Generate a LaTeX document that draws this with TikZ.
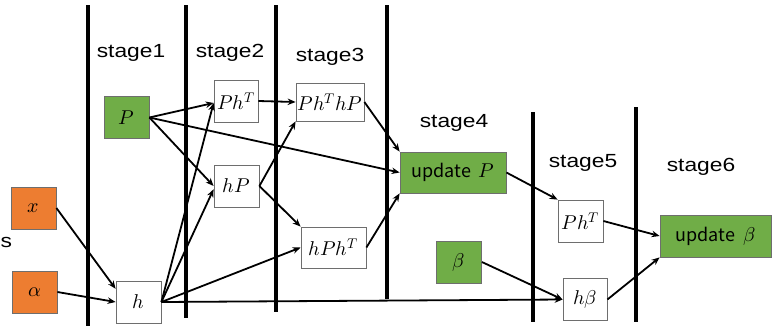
\documentclass[tikz,border=0pt]{standalone}
\usepackage{fontspec}
\usepackage{unicode-math}
\setmathfont{Latin Modern Math}
\usetikzlibrary{arrows.meta}
\newfontfamily\stagefont{Liberation Sans}
\newfontfamily\jpfont{Noto Sans CJK JP}
\definecolor{myorange}{HTML}{ED7D31}
\definecolor{mygreen}{HTML}{70AD47}
\definecolor{myborder}{HTML}{6E6E6E}
\newcommand{\stg}[1]{\scalebox{1.2}[1]{\stagefont\fontsize{19}{22}\selectfont #1}}
\newcommand{\mth}[1]{{\fontsize{20}{22}\selectfont$#1$}}
\begin{document}
\begin{tikzpicture}[x=1pt,y=-1pt,
  box/.style={draw=myborder,line width=0.8pt,minimum width=45pt,minimum height=42pt,inner sep=0pt},
  obox/.style={box,fill=myorange},
  gbox/.style={box,fill=mygreen},
  wbox/.style={box,fill=white},
  bar/.style={line width=4.5pt,black},
  conn/.style={line width=1.8pt,-{Stealth[length=8pt,width=6.5pt]}},
  stagelbl/.style={anchor=base,inner sep=0pt}
]
\useasboundingbox (0,0) rectangle (781,330);
% vertical bars
\draw[bar] (88,5) -- (88,326);
\draw[bar] (186,5) -- (186,318);
\draw[bar] (276,5) -- (276,312);
\draw[bar] (387,5) -- (387,299);
\draw[bar] (533,112) -- (533,322);
\draw[bar] (636,107) -- (636,322);
% stage labels
\node[stagelbl] (s1) at (131,57) {\stg{stage1}};
\node[stagelbl] (s2) at (230,57) {\stg{stage2}};
\node[stagelbl] (s3) at (330,61) {\stg{stage3}};
\node[stagelbl] (s4) at (454,127) {\stg{stage4}};
\node[stagelbl] (s5) at (583,167) {\stg{stage5}};
\node[stagelbl] (s6) at (701,171) {\stg{stage6}};
\node[anchor=base west,inner sep=0pt] (sleft) at (0.5,247) {\stg{s}};
% nodes
\node[obox] (nx) at (33.5,208) {\mth{x}};
\node[obox] (na) at (34.5,292) {\mth{\alpha}};
\node[wbox] (nh) at (138.5,302) {\mth{h}};
\node[gbox] (nP) at (126.5,117.5) {\mth{P}};
\node[wbox,minimum width=44pt] (nPhT) at (236,101) {\mth{Ph^T}};
\node[wbox] (nhP) at (236.5,186) {\mth{hP}};
\node[wbox,minimum width=68pt,minimum height=38pt] (nPhThP) at (330,102) {\mth{Ph^ThP}};
\node[wbox,minimum width=65pt,minimum height=41pt] (nhPhT) at (333.5,247.5) {\mth{hPh^T}};
\node[gbox,minimum width=106pt,minimum height=41pt] (nupP) at (453,172.5) {{\jpfont\fontsize{18}{20}\selectfont update}\hspace{8pt}\mth{P}};
\node[gbox] (nb) at (459,262) {\mth{\beta}};
\node[wbox] (nPhT5) at (580.5,221) {\mth{Ph^T}};
\node[wbox,minimum width=44pt] (nhb) at (585,299.5) {\mth{h\beta}};
\node[gbox,minimum width=111pt,minimum height=42pt] (nupb) at (715.5,236) {{\jpfont\fontsize{18}{20}\selectfont update}\hspace{8pt}\mth{\beta}};
% connectors
\draw[conn] (nx.east) -- (nh.150);
\draw[conn] (na.east) -- (nh.west);
\draw[conn] (nP.east) -- (nPhT.185);
\draw[conn] (nP.east) -- (nhP.west);
\draw[conn] (nP.east) -- (nupP.west);
\draw[conn] (nh.east) -- (nPhT.185);
\draw[conn] (nh.east) -- (nhP.188);
\draw[conn] (nh.east) -- (nhPhT.west);
\draw[conn] (nh.east) -- (nhb.west);
\draw[conn] (nPhT.east) -- (nPhThP.west);
\draw[conn] (nhP.east) -- (nPhThP.south west);
\draw[conn] (nhP.east) -- (nhPhT.north west);
\draw[conn] (nPhThP.east) -- (nupP.north west);
\draw[conn] (nhPhT.east) -- (nupP.south west);
\draw[conn] (nupP.east) -- (nPhT5.north west);
\draw[conn] (nb.east) -- (nhb.west);
\draw[conn] (nPhT5.east) -- (nupb.west);
\draw[conn] (nhb.east) -- (nupb.south west);
\end{tikzpicture}
\end{document}
